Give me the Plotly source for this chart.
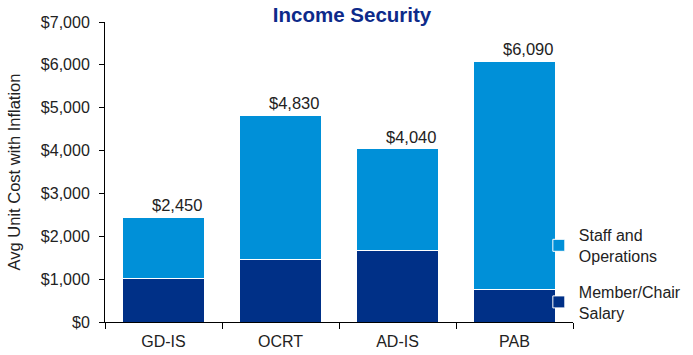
import plotly.graph_objects as go

categories = ["GD-IS", "OCRT", "AD-IS", "PAB"]
member_salary = [1010, 1460, 1670, 760]
staff_ops = [1440, 3370, 2370, 5330]
totals = [2450, 4830, 4040, 6090]
total_labels = ["$2,450", "$4,830", "$4,040", "$6,090"]
y_ticks = [0, 1000, 2000, 3000, 4000, 5000, 6000, 7000]
y_tick_labels = ["$0", "$1,000", "$2,000", "$3,000", "$4,000", "$5,000", "$6,000", "$7,000"]

font_family = "Liberation Sans, Arial, sans-serif"

fig = go.Figure()
fig.add_trace(go.Bar(
    x=categories, y=member_salary, name="Member/Chair<br>Salary",
    legendgroup="member", legendrank=2,
    marker=dict(color="#003087", line=dict(color="white", width=1)),
    width=0.7,
))
fig.add_trace(go.Bar(
    x=categories, y=staff_ops, name="Staff and<br>Operations",
    legendgroup="staff", legendrank=1,
    marker=dict(color="#0090D8", line=dict(color="white", width=1)),
    width=0.7,
))

for c, t, lbl in zip(categories, totals, total_labels):
    fig.add_annotation(x=c, y=t, text=lbl, showarrow=False, yanchor="bottom",
                       xshift=13, yshift=1,
                       font=dict(family=font_family, size=16.5, color="#222222"))

fig.update_layout(
    barmode="stack",
    width=693, height=355,
    margin=dict(l=105, r=120, t=22, b=33, autoexpand=False),
    plot_bgcolor="white", paper_bgcolor="white",
    font=dict(family=font_family, size=16, color="#222222"),
    title=dict(text="<b>Income Security</b>", x=0.508, xanchor="center", y=0.958, yanchor="middle",
               font=dict(family=font_family, size=20.5, color="#0D2A8A")),
    showlegend=True,
    legend=dict(x=0.927, xanchor="left", y=0.16, yanchor="middle",
                traceorder="grouped", tracegroupgap=12,
                font=dict(size=16, color="#222222"),
                itemwidth=30, bgcolor="rgba(0,0,0,0)"),
    bargap=0.3,
)
fig.update_xaxes(showline=True, linecolor="#000000", linewidth=1,
                 ticks="outside", tickson="boundaries", ticklen=6, tickcolor="#000000",
                 showgrid=False, tickfont=dict(size=16), ticklabelstandoff=5)
fig.update_yaxes(range=[0, 7000], tickvals=y_ticks, ticktext=y_tick_labels,
                 showline=True, linecolor="#000000", linewidth=1,
                 ticks="outside", ticklen=5, tickcolor="#000000", showgrid=False,
                 zeroline=False, tickfont=dict(size=16), ticklabelstandoff=6,
                 title=dict(text="Avg Unit Cost with Inflation", font=dict(size=16.5), standoff=16))

fig.write_html("out.html", config={"displayModeBar": False},
               post_script="document.body.style.margin='0';")
